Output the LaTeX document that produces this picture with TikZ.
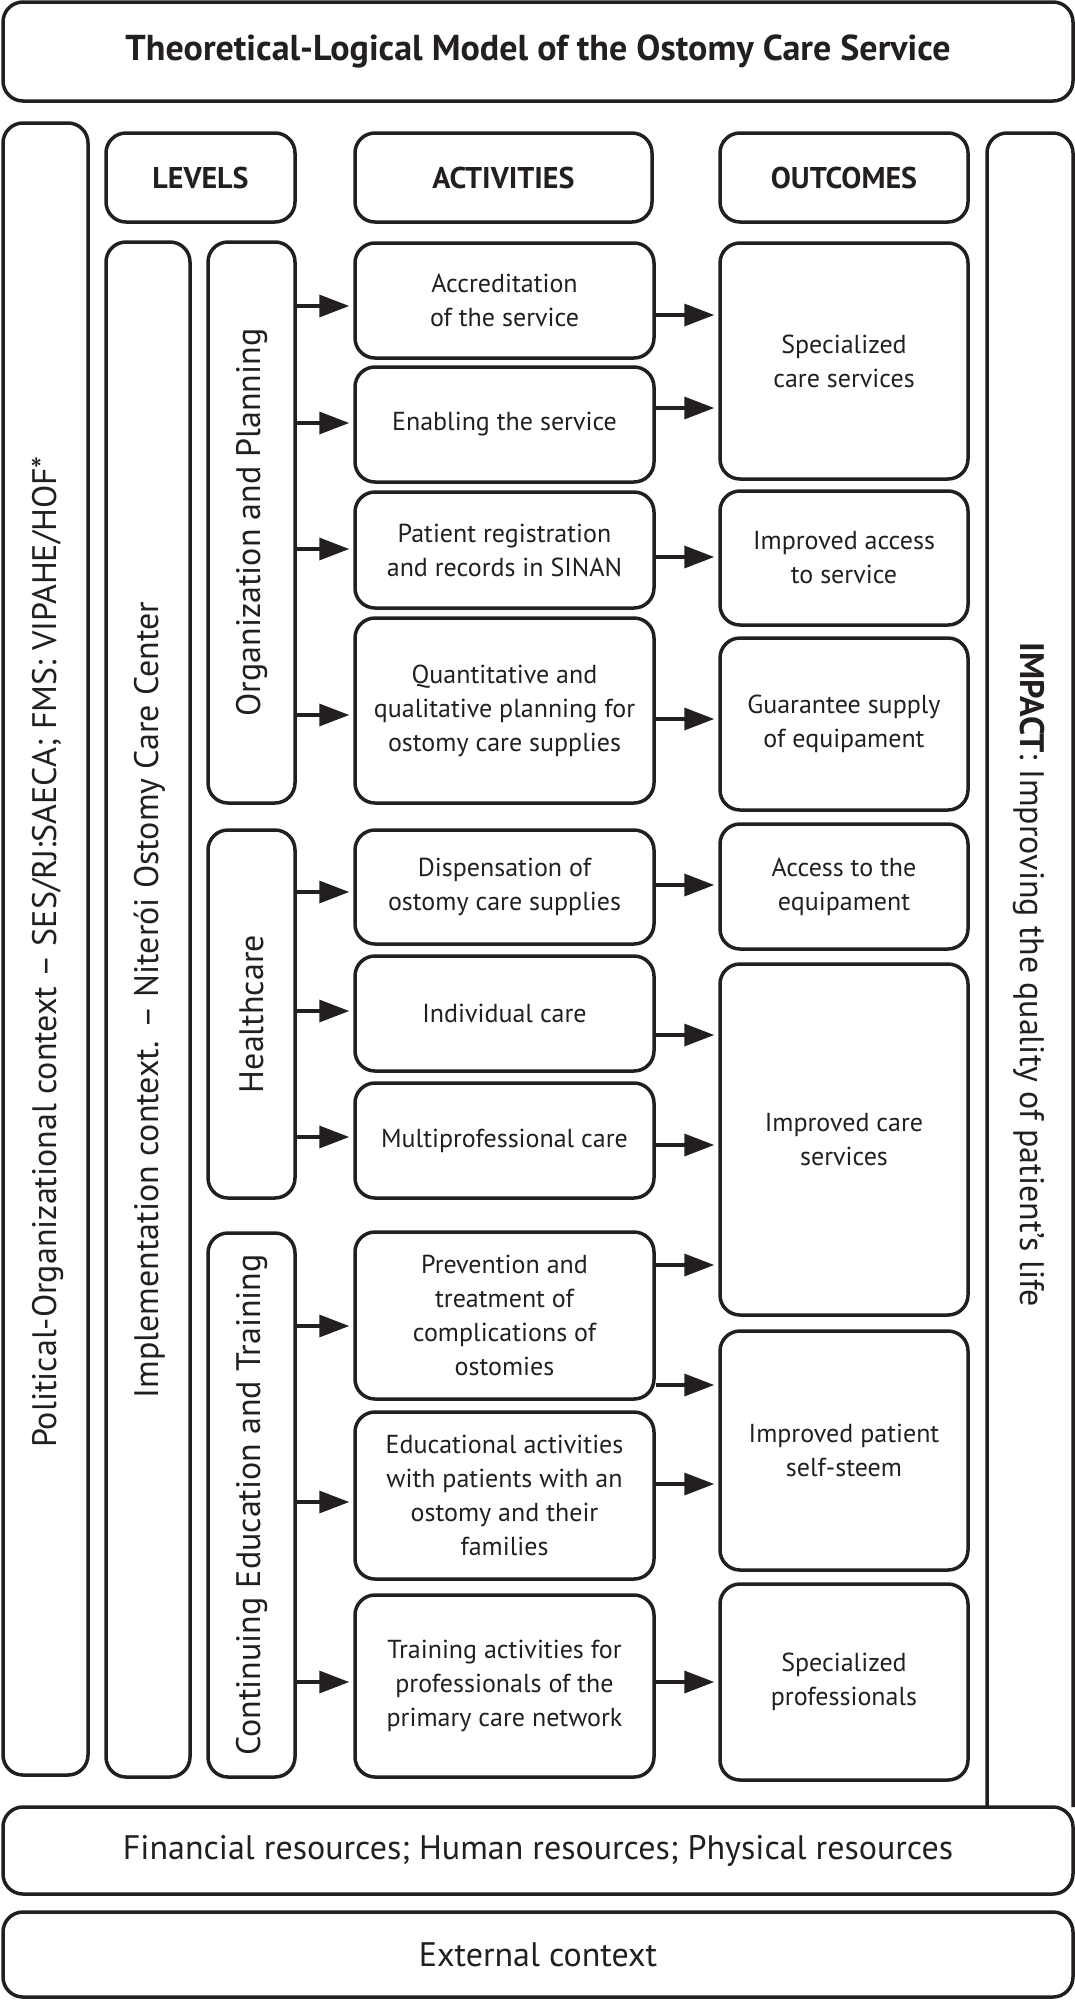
\documentclass[tikz,border=0pt]{standalone}
\usepackage{fontspec}
\setmainfont{PT Sans}
\usetikzlibrary{arrows.meta}
\definecolor{ink}{HTML}{231F20}
\newcommand\bodyfnt{\fontsize{26}{34}\selectfont}
\newcommand\headfnt{\fontsize{30}{36}\selectfont\bfseries}
\newcommand\titlefnt{\fontsize{36}{42}\selectfont\bfseries}
\newcommand\sidefnt{\fontsize{34}{40}\selectfont}
\newcommand\bigfnt{\fontsize{34}{40}\selectfont}
\begin{document}
\begin{tikzpicture}[x=1pt,y=-1pt,
  bx/.style={draw=ink, line width=3.5pt, rounded corners=20pt, text=ink, align=center, inner sep=0pt, font=\bodyfnt},
  act/.style={bx, minimum width=299pt},
  outc/.style={bx, minimum width=248pt},
  lvl/.style={bx, minimum width=87pt},
  hdr/.style={bx, minimum height=89pt, font=\headfnt},
  side/.style={text=ink, font=\sidefnt, inner sep=0pt},
  arr/.style={draw=ink, line width=3.5pt, -{Triangle[length=30pt,width=22pt]}, shorten >=4pt}
]
\useasboundingbox (0,0) rectangle (1075,2000);

% title
\node[bx, minimum width=1070pt, minimum height=99pt, font=\titlefnt] (title) at (538,51.5) {Theoretical-Logical Model of the Ostomy Care Service};

% outer context boxes
\node[bx, minimum width=85pt, minimum height=1652pt] (pol) at (45.5,949) {};
\node[side, rotate=90] (poltxt) at (48,952) {Political-Organizational context -- SES/RJ:SAECA; FMS: VIPAHE/HOF*};
\node[bx, minimum width=84pt, minimum height=1535pt] (impl) at (148,1009.5) {};
\node[side, rotate=90] (impltxt) at (150,1000) {Implementation context. -- Niterói Ostomy Care Center};

% headers
\node[hdr, minimum width=189pt] (hlev) at (200.5,177.5) {LEVELS};
\node[hdr, minimum width=297pt] (hact) at (503.5,177.5) {ACTIVITIES};
\node[hdr, minimum width=248pt] (hout) at (844,177.5) {OUTCOMES};

% impact
\draw[draw=ink, line width=3.5pt, rounded corners=20pt] (987,1807) -- (987,133) -- (1073,133) -- (1073,1807);
\node[side, rotate=-90] (imp) at (1029,975) {\textbf{IMPACT}: Improving the quality of patient’s life};

% levels
\node[lvl, minimum height=561pt] (org) at (251.5,522.5) {};
\node[side, rotate=90] at (org.center) {Organization and Planning};
\node[lvl, minimum height=368pt] (hc) at (251.5,1014) {};
\node[side, rotate=90] at (hc.center) {Healthcare};
\node[lvl, minimum height=544pt] (ce) at (251.5,1505) {};
\node[side, rotate=90] at (ce.center) {Continuing Education and Training};

% activities
\node[act, minimum height=115pt] (a1) at (504.5,300.5) {Accreditation\\of the service};
\node[act, minimum height=115pt] (a2) at (504.5,424.5) {Enabling the service};
\node[act, minimum height=116pt] (a3) at (504.5,550) {Patient registration\\and records in SINAN};
\node[act, minimum height=185pt] (a4) at (504.5,710.5) {Quantitative and\\qualitative planning for\\ostomy care supplies};
\node[act, minimum height=114pt] (a5) at (504.5,887) {Dispensation of\\ostomy care supplies};
\node[act, minimum height=115pt] (a6) at (504.5,1013.5) {Individual care};
\node[act, minimum height=115pt] (a7) at (504.5,1140.5) {Multiprofessional care};
\node[act, minimum height=167pt] (a8) at (504.5,1315.5) {Prevention and\\treatment of\\complications of\\ostomies};
\node[act, minimum height=167pt] (a9) at (504.5,1495.5) {Educational activities\\with patients with an\\ostomy and their\\families};
\node[act, minimum height=182pt] (a10) at (504.5,1686) {Training activities for\\professionals of the\\primary care network};

% outcomes
\node[outc, minimum height=236pt] (o1) at (844,361) {Specialized\\care services};
\node[outc, minimum height=134pt] (o2) at (844,558) {Improved access\\to service};
\node[outc, minimum height=172pt] (o3) at (844,724) {Guarantee supply\\of equipament};
\node[outc, minimum height=125pt] (o4) at (844,886.5) {Access to the\\equipament};
\node[outc, minimum height=351pt] (o5) at (844,1139.5) {Improved care\\services};
\node[outc, minimum height=239pt] (o6) at (844,1450.5) {Improved patient\\self-steem};
\node[outc, minimum height=196pt] (o7) at (844,1682) {Specialized\\professionals};

% bottom boxes
\node[bx, minimum width=1070pt, minimum height=87pt, font=\bigfnt] (res) at (538,1850.5) {Financial resources; Human resources; Physical resources};
\node[bx, minimum width=1070pt, minimum height=85pt, font=\bigfnt] (ext) at (538,1954.5) {External context};

% arrows level -> activity
\draw[arr] (org.east |- 0,306) -- (a1.west |- 0,306);
\draw[arr] (org.east |- 0,423) -- (a2.west |- 0,423);
\draw[arr] (org.east |- 0,549) -- (a3.west |- 0,549);
\draw[arr] (org.east |- 0,715) -- (a4.west |- 0,715);
\draw[arr] (hc.east |- 0,892) -- (a5.west |- 0,892);
\draw[arr] (hc.east |- 0,1011) -- (a6.west |- 0,1011);
\draw[arr] (hc.east |- 0,1137) -- (a7.west |- 0,1137);
\draw[arr] (ce.east |- 0,1326) -- (a8.west |- 0,1326);
\draw[arr] (ce.east |- 0,1502) -- (a9.west |- 0,1502);
\draw[arr] (ce.east |- 0,1682) -- (a10.west |- 0,1682);

% arrows activity -> outcome
\draw[arr] (a1.east |- 0,315) -- (o1.west |- 0,315);
\draw[arr] (a2.east |- 0,408) -- (o1.west |- 0,408);
\draw[arr] (a3.east |- 0,557) -- (o2.west |- 0,557);
\draw[arr] (a4.east |- 0,719) -- (o3.west |- 0,719);
\draw[arr] (a5.east |- 0,885) -- (o4.west |- 0,885);
\draw[arr] (a6.east |- 0,1035) -- (o5.west |- 0,1035);
\draw[arr] (a7.east |- 0,1145) -- (o5.west |- 0,1145);
\draw[arr] (a8.east |- 0,1265) -- (o5.west |- 0,1265);
\draw[arr] (a8.east |- 0,1385) -- (o6.west |- 0,1385);
\draw[arr] (a9.east |- 0,1484) -- (o6.west |- 0,1484);
\draw[arr] (a10.east |- 0,1682) -- (o7.west |- 0,1682);
\end{tikzpicture}
\end{document}
